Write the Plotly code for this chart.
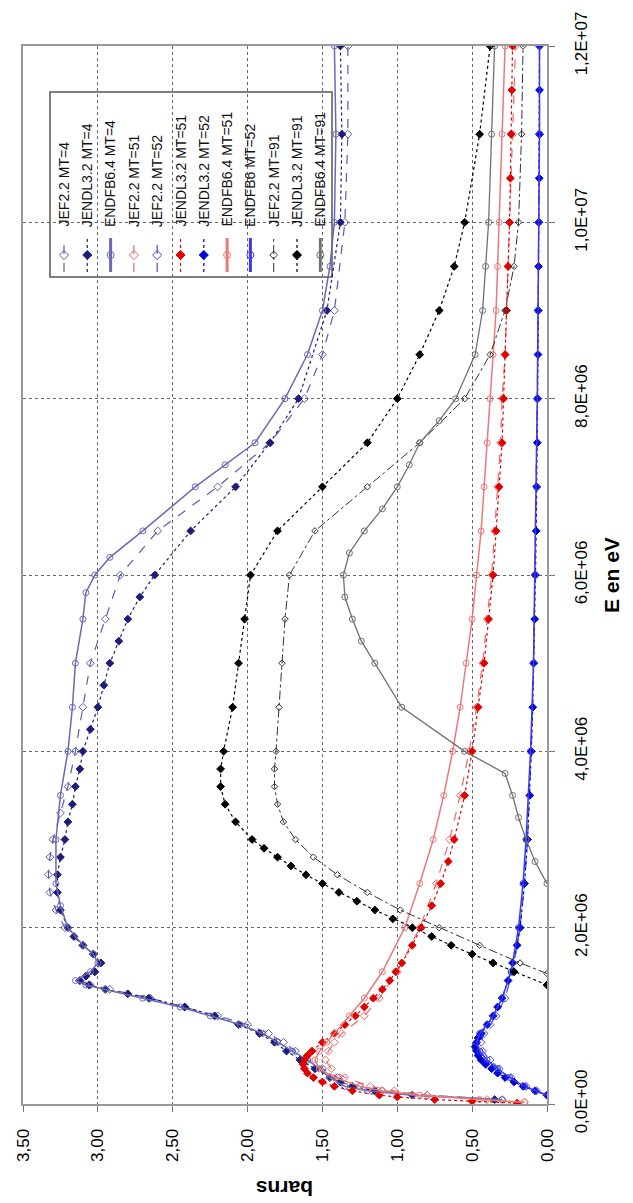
import plotly.graph_objects as go

# ---------------- data (E in MeV, cross sections in barns) ----------------
jef_mt4_E = [0.05, 0.1, 0.15, 0.2, 0.3, 0.4, 0.5, 0.6, 0.7, 0.8, 0.9, 1.0, 1.1, 1.2, 1.3, 1.35, 1.4, 1.5, 1.6, 1.7, 1.8, 2.0, 2.2, 2.4, 2.6, 2.8, 3.0, 3.3, 3.6, 4.0, 4.5, 5.0, 5.5, 6.0, 6.5, 7.0, 7.5, 8.0, 8.5, 9.0, 10.0, 11.0, 12.0]
jef_mt4_s = [0.3, 0.8, 1.1, 1.25, 1.4, 1.5, 1.6, 1.68, 1.76, 1.86, 2.0, 2.2, 2.42, 2.65, 2.92, 3.05, 3.12, 3.02, 2.98, 3.03, 3.1, 3.22, 3.28, 3.32, 3.33, 3.32, 3.3, 3.25, 3.2, 3.15, 3.1, 3.05, 2.95, 2.85, 2.6, 2.2, 1.85, 1.62, 1.5, 1.42, 1.35, 1.33, 1.33]

jendl_mt4_E = [0.05, 0.1, 0.15, 0.2, 0.25, 0.3, 0.4, 0.5, 0.6, 0.7, 0.8, 0.9, 1.0, 1.1, 1.2, 1.25, 1.3, 1.35, 1.4, 1.45, 1.5, 1.6, 1.7, 1.8, 1.9, 2.0, 2.2, 2.4, 2.6, 2.8, 3.0, 3.2, 3.4, 3.6, 3.8, 4.0, 4.25, 4.5, 4.75, 5.0, 5.25, 5.5, 5.75, 6.0, 6.5, 7.0, 7.5, 8.0, 9.0, 10.0, 11.0, 12.0]
jendl_mt4_s = [0.35, 0.9, 1.15, 1.3, 1.38, 1.45, 1.55, 1.65, 1.74, 1.82, 1.92, 2.06, 2.22, 2.42, 2.66, 2.8, 2.95, 3.06, 3.12, 3.08, 3.02, 2.98, 3.03, 3.1, 3.16, 3.2, 3.25, 3.27, 3.27, 3.25, 3.22, 3.2, 3.17, 3.15, 3.12, 3.1, 3.05, 3.0, 2.96, 2.92, 2.86, 2.8, 2.72, 2.62, 2.38, 2.08, 1.85, 1.66, 1.47, 1.38, 1.37, 1.38]

endf_mt4_E = [0.05, 0.1, 0.15, 0.2, 0.3, 0.4, 0.5, 0.6, 0.7, 0.8, 0.9, 1.0, 1.1, 1.2, 1.3, 1.35, 1.4, 1.5, 1.6, 1.7, 1.8, 2.0, 2.25, 2.5, 3.0, 3.5, 4.0, 4.5, 5.0, 5.5, 5.8, 6.0, 6.2, 6.5, 7.0, 7.25, 7.5, 8.0, 8.5, 9.0, 9.5, 10.0, 11.0, 12.0]
endf_mt4_s = [0.3, 0.9, 1.2, 1.35, 1.45, 1.52, 1.6, 1.7, 1.8, 1.9, 2.05, 2.25, 2.45, 2.7, 2.95, 3.08, 3.15, 3.05, 3.0, 3.03, 3.1, 3.2, 3.25, 3.28, 3.28, 3.25, 3.2, 3.17, 3.15, 3.1, 3.08, 3.02, 2.92, 2.7, 2.35, 2.15, 1.95, 1.75, 1.6, 1.5, 1.45, 1.42, 1.41, 1.42]

jef_mt51_E = [0.02, 0.05, 0.1, 0.15, 0.2, 0.3, 0.4, 0.5, 0.6, 0.7, 0.8, 1.0, 1.2, 1.5, 2.0, 2.5, 3.0, 3.5, 4.0, 4.5, 5.0, 5.5, 6.0, 6.5, 7.0, 7.5, 8.0, 8.5, 9.0, 9.5, 10.0, 11.0, 12.0]
jef_mt51_s = [0.15, 0.4, 0.8, 1.02, 1.18, 1.35, 1.44, 1.48, 1.46, 1.42, 1.37, 1.22, 1.12, 1.0, 0.85, 0.74, 0.65, 0.58, 0.52, 0.47, 0.43, 0.4, 0.37, 0.35, 0.33, 0.31, 0.3, 0.28, 0.27, 0.26, 0.25, 0.23, 0.21]

jef_mt52_E = [0.1, 0.15, 0.2, 0.3, 0.4, 0.5, 0.6, 0.7, 0.8, 0.9, 1.0, 1.2, 1.5, 2.0, 2.5, 3.0, 4.0, 5.0, 6.0, 7.0, 8.0, 9.0, 10.0, 11.0, 12.0]
jef_mt52_s = [0.0, 0.07, 0.14, 0.24, 0.32, 0.38, 0.43, 0.44, 0.42, 0.38, 0.34, 0.28, 0.23, 0.18, 0.15, 0.13, 0.105, 0.09, 0.08, 0.07, 0.065, 0.06, 0.055, 0.05, 0.05]

jendl_mt51_E = [0.01, 0.03, 0.05, 0.08, 0.1, 0.15, 0.2, 0.25, 0.3, 0.35, 0.4, 0.45, 0.5, 0.55, 0.6, 0.7, 0.8, 0.9, 1.0, 1.1, 1.2, 1.3, 1.4, 1.5, 1.6, 1.8, 2.0, 2.25, 2.5, 2.75, 3.0, 3.5, 4.0, 4.5, 5.0, 5.5, 6.0, 6.5, 7.0, 7.5, 8.0, 8.5, 9.0, 9.5, 10.0, 10.5, 11.0, 11.5, 12.0]
jendl_mt51_s = [0.2, 0.5, 0.75, 1.0, 1.12, 1.3, 1.42, 1.5, 1.56, 1.6, 1.62, 1.63, 1.62, 1.6, 1.57, 1.5, 1.42, 1.35, 1.28, 1.22, 1.16, 1.1, 1.05, 1.01, 0.97, 0.9, 0.84, 0.77, 0.71, 0.66, 0.62, 0.55, 0.5, 0.46, 0.42, 0.39, 0.36, 0.34, 0.32, 0.3, 0.29, 0.28, 0.27, 0.26, 0.25, 0.245, 0.24, 0.235, 0.23]

jendl_mt52_E = [0.1, 0.15, 0.2, 0.25, 0.3, 0.35, 0.4, 0.45, 0.5, 0.55, 0.6, 0.65, 0.7, 0.75, 0.8, 0.9, 1.0, 1.1, 1.2, 1.4, 1.6, 1.8, 2.0, 2.5, 3.0, 3.5, 4.0, 4.5, 5.0, 5.5, 6.0, 6.5, 7.0, 7.5, 8.0, 8.5, 9.0, 9.5, 10.0, 10.5, 11.0, 11.5, 12.0]
jendl_mt52_s = [0.0, 0.08, 0.16, 0.22, 0.28, 0.33, 0.37, 0.41, 0.44, 0.46, 0.47, 0.48, 0.47, 0.46, 0.44, 0.4, 0.36, 0.33, 0.3, 0.26, 0.23, 0.2, 0.18, 0.15, 0.13, 0.115, 0.105, 0.095, 0.088, 0.082, 0.077, 0.072, 0.068, 0.065, 0.062, 0.06, 0.058, 0.056, 0.054, 0.052, 0.05, 0.05, 0.05]

endf_mt51_E = [0.02, 0.05, 0.1, 0.15, 0.2, 0.3, 0.4, 0.5, 0.6, 0.7, 0.8, 1.0, 1.2, 1.5, 2.0, 2.5, 3.0, 3.5, 4.0, 4.5, 5.0, 5.5, 6.0, 6.5, 7.0, 7.5, 8.0, 8.5, 9.0, 9.5, 10.0, 11.0, 12.0]
endf_mt51_s = [0.15, 0.45, 0.85, 1.1, 1.25, 1.42, 1.52, 1.55, 1.52, 1.47, 1.42, 1.32, 1.22, 1.1, 0.95, 0.85, 0.76, 0.69, 0.63, 0.58, 0.54, 0.5, 0.47, 0.44, 0.42, 0.4, 0.38, 0.36, 0.34, 0.33, 0.32, 0.3, 0.28]

endf_mt52_E = [0.1, 0.15, 0.2, 0.3, 0.4, 0.5, 0.6, 0.7, 0.8, 0.9, 1.0, 1.2, 1.5, 2.0, 2.5, 3.0, 4.0, 5.0, 6.0, 7.0, 8.0, 9.0, 10.0, 11.0, 12.0]
endf_mt52_s = [0.0, 0.08, 0.15, 0.25, 0.33, 0.4, 0.45, 0.47, 0.45, 0.4, 0.36, 0.3, 0.24, 0.19, 0.16, 0.14, 0.11, 0.09, 0.08, 0.07, 0.065, 0.06, 0.055, 0.05, 0.05]

jef_mt91_E = [1.48, 1.6, 1.8, 2.0, 2.2, 2.4, 2.6, 2.8, 3.0, 3.2, 3.4, 3.6, 3.8, 4.0, 4.5, 5.0, 5.5, 6.0, 6.5, 7.0, 7.5, 8.0, 8.5, 9.0, 9.5, 10.0, 11.0, 12.0]
jef_mt91_s = [0.0, 0.18, 0.45, 0.72, 0.98, 1.2, 1.4, 1.56, 1.68, 1.76, 1.8, 1.82, 1.82, 1.81, 1.79, 1.77, 1.75, 1.72, 1.55, 1.2, 0.85, 0.55, 0.38, 0.28, 0.22, 0.19, 0.17, 0.16]

jendl_mt91_E = [1.35, 1.5, 1.6, 1.7, 1.8, 1.9, 2.0, 2.1, 2.2, 2.3, 2.4, 2.5, 2.6, 2.7, 2.8, 2.9, 3.0, 3.2, 3.4, 3.6, 3.8, 4.0, 4.5, 5.0, 5.5, 6.0, 6.5, 7.0, 7.5, 8.0, 8.5, 9.0, 9.5, 10.0, 11.0, 12.0]
jendl_mt91_s = [0.0, 0.22, 0.36, 0.5, 0.64, 0.77, 0.9, 1.03, 1.15, 1.27, 1.39, 1.5, 1.61, 1.71, 1.8, 1.89, 1.97, 2.08, 2.15, 2.18, 2.18, 2.16, 2.1, 2.06, 2.02, 1.98, 1.8, 1.5, 1.2, 1.0, 0.85, 0.72, 0.62, 0.55, 0.45, 0.38]

endf_mt91_E = [2.5, 2.75, 3.0, 3.25, 3.5, 3.75, 4.0, 4.5, 5.0, 5.25, 5.5, 5.75, 6.0, 6.25, 6.5, 6.75, 7.0, 7.25, 7.5, 7.75, 8.0, 8.5, 9.0, 9.5, 10.0, 11.0, 12.0]
endf_mt91_s = [0.0, 0.08, 0.14, 0.19, 0.23, 0.28, 0.55, 0.97, 1.15, 1.24, 1.3, 1.35, 1.36, 1.32, 1.22, 1.1, 1.0, 0.92, 0.85, 0.72, 0.61, 0.48, 0.43, 0.41, 0.39, 0.37, 0.35]

series_names = ["JEF2.2 MT=4", "JENDL3.2 MT=4", "ENDFB6.4 MT=4", "JEF2.2 MT=51", "JEF2.2 MT=52",
                "JENDL3.2 MT=51", "JENDL3.2 MT=52", "ENDFB6.4 MT=51", "ENDFB6 MT=52",
                "JEF2.2 MT=91", "JENDL3.2 MT=91", "ENDFB6.4 MT=91"]

barn_ticks = [0, 0.5, 1.0, 1.5, 2.0, 2.5, 3.0, 3.5]
barn_labels = ["0,00", "0,50", "1,00", "1,50", "2,00", "2,50", "3,00", "3,50"]
energy_ticks = [0, 2e6, 4e6, 6e6, 8e6, 1e7, 1.2e7]
energy_labels = ["0,0E+00", "2,0E+06", "4,0E+06", "6,0E+06", "8,0E+06", "1,0E+07", "1,2E+07"]

# ---------------- styles ----------------
data = [
    (jef_mt4_E, jef_mt4_s), (jendl_mt4_E, jendl_mt4_s), (endf_mt4_E, endf_mt4_s),
    (jef_mt51_E, jef_mt51_s), (jef_mt52_E, jef_mt52_s),
    (jendl_mt51_E, jendl_mt51_s), (jendl_mt52_E, jendl_mt52_s),
    (endf_mt51_E, endf_mt51_s), (endf_mt52_E, endf_mt52_s),
    (jef_mt91_E, jef_mt91_s), (jendl_mt91_E, jendl_mt91_s), (endf_mt91_E, endf_mt91_s),
]
styles = [
    dict(color="#5c5cb0", dash="dash", symbol="diamond-open", size=6, width=1.2),
    dict(color="#1c1c7a", dash="dot", symbol="diamond", size=6, width=1.2),
    dict(color="#6a6ab4", dash="solid", symbol="circle-open", size=6, width=1.5),
    dict(color="#e86a6a", dash="dash", symbol="diamond-open", size=6, width=1.2),
    dict(color="#4a4ae0", dash="dash", symbol="diamond-open", size=6, width=1.2),
    dict(color="#e00000", dash="dot", symbol="diamond", size=6, width=1.2),
    dict(color="#0000d8", dash="dot", symbol="diamond", size=6, width=1.2),
    dict(color="#e87a7a", dash="solid", symbol="circle-open", size=6, width=1.5),
    dict(color="#3a3ae8", dash="solid", symbol="circle-open", size=6, width=1.5),
    dict(color="#333333", dash="dashdot", symbol="diamond-open", size=5, width=1.0),
    dict(color="#000000", dash="dot", symbol="diamond", size=6, width=1.2),
    dict(color="#707070", dash="solid", symbol="circle-open", size=6, width=1.3),
]

fig = go.Figure()
for name, (E, s), st in zip(series_names, data, styles):
    fig.add_trace(go.Scatter(
        x=s, y=[e * 1e6 for e in E], mode="lines+markers", name=name,
        line=dict(color=st["color"], dash=st["dash"], width=st["width"]),
        marker=dict(symbol=st["symbol"], size=st["size"], color=st["color"],
                    line=dict(color=st["color"], width=1)),
        showlegend=False,
    ))

# ---------------- layout geometry (pixels) ----------------
W, H = 633, 1203
L, R, T, B = 23, 547, 46, 1104

def px(x):
    return (x - L) / (R - L)

def py(y):
    return (B - y) / (B - T)

# ---------------- hand-built rotated legend ----------------
box = dict(x0=50, x1=332, y0=92, y1=277)
fig.add_shape(type="rect", xref="paper", yref="paper",
              x0=px(box["x0"]), x1=px(box["x1"]), y0=py(box["y1"]), y1=py(box["y0"]),
              line=dict(color="#555555", width=1.5), fillcolor="white", layer="between")
col0, dcol = 64, 23.3
line_top, line_bot, mark_y, text_bot = 238, 272, 255, 229
for i, (name, st) in enumerate(zip(series_names, styles)):
    cx = col0 + dcol * i
    fig.add_trace(go.Scatter(
        x=[px(cx), px(cx)], y=[py(line_bot), py(line_top)], mode="lines",
        line=dict(color=st["color"], dash=st["dash"], width=st["width"] + (1.5 if st["dash"] == "solid" else 0)),
        xaxis="x2", yaxis="y2", showlegend=False, hoverinfo="skip"))
    fig.add_trace(go.Scatter(
        x=[px(cx)], y=[py(mark_y)], mode="markers",
        marker=dict(symbol=st["symbol"], size=st["size"] + 1, color=st["color"],
                    line=dict(color=st["color"], width=1)),
        xaxis="x2", yaxis="y2", showlegend=False, hoverinfo="skip"))
    fig.add_annotation(text=name, xref="paper", yref="paper", x=px(cx), y=py(text_bot),
                       xanchor="center", yanchor="bottom", textangle=-90, showarrow=False,
                       font=dict(family="Liberation Sans, Arial", size=14, color="#111111"))

# ---------------- axis titles ----------------
fig.add_annotation(text="<b>E en eV</b>", xref="paper", yref="paper", x=px(611), y=0.5,
                   xanchor="center", yanchor="middle", textangle=-90, showarrow=False,
                   font=dict(family="Liberation Sans, Arial", size=21, color="black"))
fig.add_annotation(text="<b>barns</b>", xref="paper", yref="paper", x=px(285), y=py(1189),
                   xanchor="center", yanchor="middle", textangle=180, showarrow=False,
                   font=dict(family="Liberation Sans, Arial", size=21, color="black"))

axis_common = dict(
    showline=True, linecolor="#999999", linewidth=2, mirror=True,
    ticks="outside", ticklen=6, tickcolor="#777777", tickwidth=1,
    showgrid=True, gridcolor="#666666", gridwidth=1, griddash="dot",
    zeroline=False, tickangle=-90,
    tickfont=dict(family="Liberation Sans, Arial", size=17, color="black"),
)

fig.update_layout(
    width=W, height=H,
    margin=dict(l=L, r=W - R, t=T, b=H - B, pad=0),
    paper_bgcolor="white", plot_bgcolor="white",
    showlegend=False,
    xaxis=dict(range=[3.5, 0], tickvals=barn_ticks, ticktext=barn_labels,
               ticklabelstandoff=10, **axis_common),
    yaxis=dict(range=[0, 1.2e7], side="right", tickvals=energy_ticks, ticktext=energy_labels,
               ticklabelstandoff=12, **axis_common),
    xaxis2=dict(overlaying="x", range=[0, 1], visible=False, anchor="y2"),
    yaxis2=dict(overlaying="y", range=[0, 1], visible=False, anchor="x2"),
)

fig.write_html("out.html")
